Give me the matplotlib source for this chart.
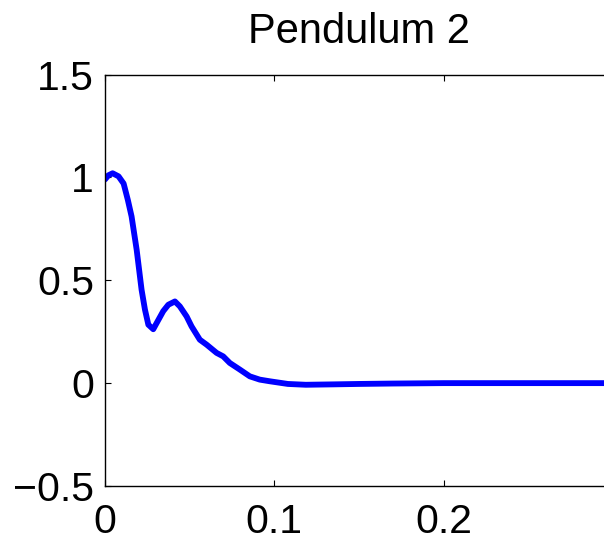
import matplotlib
matplotlib.use("Agg")
import matplotlib.pyplot as plt

# curve (time, response)
t = [0.000, 0.002, 0.0045, 0.008, 0.011, 0.0135, 0.0157, 0.0187, 0.0216,
     0.0236, 0.0256, 0.0285, 0.0305, 0.0344, 0.0374, 0.0413, 0.0442,
     0.0482, 0.0511, 0.056, 0.060, 0.0659, 0.0698, 0.0737, 0.0796, 0.0855,
     0.0914, 0.0973, 0.108, 0.1186, 0.135, 0.150, 0.170, 0.200, 0.250, 0.300]
y = [0.99, 1.01, 1.02, 1.005, 0.97, 0.89, 0.81, 0.648, 0.454,
     0.357, 0.284, 0.262, 0.292, 0.35, 0.381, 0.397, 0.373,
     0.324, 0.276, 0.211, 0.187, 0.147, 0.13, 0.098, 0.066, 0.033,
     0.017, 0.009, -0.004, -0.008, -0.006, -0.004, -0.002, 0.0, 0.0, 0.0]

xticks = [0, 0.1, 0.2]
yticks = [-0.5, 0, 0.5, 1, 1.5]
ytick_labels = ["\u22120.5", "0", "0.5", "1", "1.5"]

plt.rcParams["font.family"] = ["Liberation Sans", "DejaVu Sans"]

W, H = 604, 538
fig = plt.figure(figsize=(W / 100, H / 100), dpi=100)
# axes runs past the right edge of the figure (clipped, like the original)
left, right, top, bottom = 105, 613, 74.5, 486
ax = fig.add_axes([left / W, 1 - bottom / H, (right - left) / W, (bottom - top) / H])

ax.plot(t, y, color="#0000ff", lw=4.2, solid_capstyle="round",
        solid_joinstyle="round")
ax.set_xlim(0, 0.3)
ax.set_ylim(-0.5, 1.5)
ax.set_xticks(xticks)
ax.set_xticklabels(["0", "0.1", "0.2"])
ax.set_yticks(yticks)
ax.set_yticklabels(ytick_labels)

ax.tick_params(direction="in", length=4.3, width=0.8, top=True, right=True,
               labelsize=29.5)
ax.tick_params(axis="x", pad=12)
ax.tick_params(axis="y", pad=8)
for s in ax.spines.values():
    s.set_linewidth(1.0)

ax.set_title("Pendulum 2", fontsize=30, pad=23)

fig.savefig("out.png", dpi=100)
